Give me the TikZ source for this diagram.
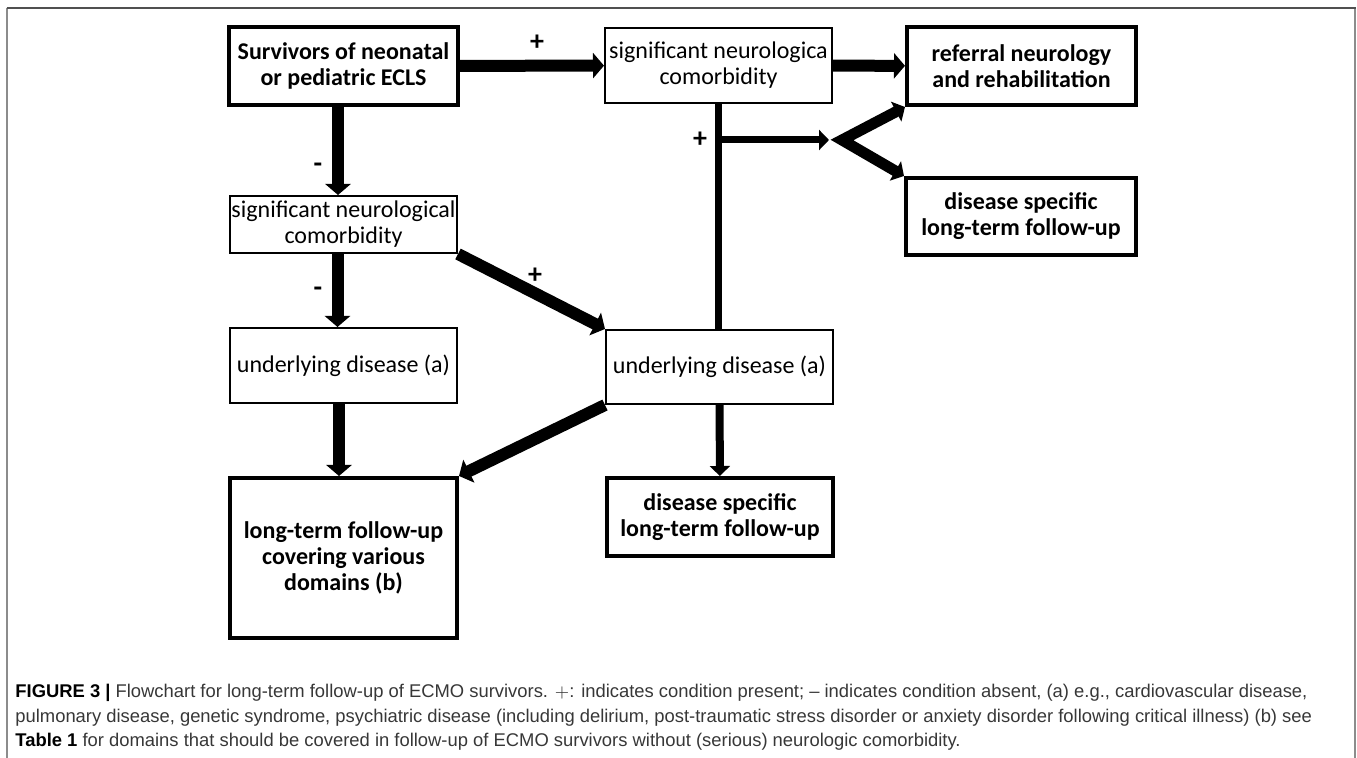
\documentclass[tikz,border=0pt]{standalone}
\usepackage{fontspec}
\setmainfont{Carlito}
\newfontfamily\capfont{Liberation Sans}
\usetikzlibrary{arrows.meta,calc}
\definecolor{frameGray}{RGB}{80,80,80}
\definecolor{sideGray}{RGB}{140,140,140}
\definecolor{capGray}{RGB}{55,55,55}
\newcommand{\boxfont}{\fontsize{12}{13}\selectfont}
\tikzset{
  plainbox/.style={draw, line width=1pt, inner sep=0pt, align=center, font=\boxfont},
  boldbox/.style={draw, line width=2pt, inner sep=0pt, align=center, font=\boxfont\bfseries},
  bigarrow/.style={-{Triangle[length=5.5pt,width=12.5pt]}, line width=6pt},
  midarrow/.style={-{Triangle[length=5pt,width=10pt]}, line width=4pt},
  forkarrow/.style={{Triangle[length=5pt,width=11pt]}-{Triangle[length=5pt,width=11pt]}, line width=5.5pt, line join=miter},
  stem/.style={line width=3.5pt},
  sign/.style={font=\fontsize{14}{14}\selectfont\bfseries, inner sep=0pt},
  caption/.style={align=left, inner sep=0pt, text=capGray, font=\capfont\fontsize{9.2}{12.25}\selectfont}
}

\begin{document}
\begin{tikzpicture}[x=0.5pt, y=-0.5pt]
  \useasboundingbox (0,0) rectangle (1357,758);
  % frame of the figure
  \draw[sideGray, line width=0.75pt] (7,8) -- (7,758);
  \draw[sideGray, line width=0.75pt] (1355,8) -- (1355,758);
  \draw[frameGray, line width=1pt] (6.5,8) -- (1355.5,8);

  % boxes
  \node[boldbox, minimum width=114.5pt, minimum height=39pt] (surv) at (343.5,66) {Survivors of neonatal\\or pediatric ECLS};
  \node[plainbox, minimum width=113.5pt, minimum height=37.5pt] (neuroTop) at (718.5,65.5) {significant neurologica\\comorbidity};
  \node[boldbox, minimum width=114.5pt, minimum height=39pt] (referral) at (1021.5,66) {referral neurology\\and rehabilitation};
  \node[plainbox, minimum width=113.5pt, minimum height=28.5pt] (neuroLeft) at (343.5,224.5) {\makebox[0pt]{significant neurological}\\comorbidity};
  \node[boldbox, minimum width=115pt, minimum height=38.5pt] (specTop) at (1021,216.5) {disease specific\\long-term follow-up};
  \node[plainbox, minimum width=113.5pt, minimum height=37.5pt] (underLeft) at (343.5,365.5) {underlying disease (a)};
  \node[plainbox, minimum width=113.5pt, minimum height=37pt] (underRight) at (719.5,367) {underlying disease (a)};
  \node[boldbox, minimum width=113pt, minimum height=39pt] (specBottom) at (720,517) {disease specific\\long-term follow-up};
  \node[boldbox, minimum width=113.5pt, minimum height=80pt] (various) at (343.5,558) {long-term follow-up\\covering various\\domains (b)};

  % signs
  \node[sign] (plusTop) at (537,43) {+};
  \node[sign] (minusTop) at (318,168) {-};
  \node[sign] (minusLow) at (318,292) {-};
  \node[sign] (plusStem) at (700,140) {+};
  \node[sign] (plusDiag) at (535,276) {+};

  % connectors
  \draw[bigarrow] (surv) -- (neuroTop);
  \draw[bigarrow] (neuroTop) -- (referral);
  \draw[bigarrow] ([xshift=-2.75pt]surv.south) -- ([xshift=-2.75pt]neuroLeft.north);
  \draw[bigarrow] ([xshift=-3pt]neuroLeft.south) -- ([xshift=-3pt]underLeft.north);
  \draw[bigarrow] (neuroLeft.south east) -- (underRight.north west);
  \draw[bigarrow] ([xshift=-2.25pt]underLeft.south) -- ([xshift=-2.25pt]various.north);
  \draw[bigarrow] (underRight.south west) -- (various.north east);
  \draw[midarrow] (underRight) -- (specBottom);
  \draw[stem] (neuroTop.south) -- (neuroTop.south |- underRight.north);
  \coordinate (fork) at (842,140);
  \coordinate (branch) at (neuroTop.south |- fork);
  \draw[midarrow, line width=3.5pt, shorten >=6.5pt] (branch) -- (fork);
  \draw[forkarrow] (referral.south west) -- (fork) -- (specTop.north west);

  % caption
  \node[caption, anchor=north west] (cap) at (15,684) {\textbf{\color{black}FIGURE 3 |} Flowchart for long-term follow-up of ECMO survivors. $+$: indicates condition present; – indicates condition absent, (a) e.g., cardiovascular disease,\\
  pulmonary disease, genetic syndrome, psychiatric disease (including delirium, post-traumatic stress disorder or anxiety disorder following critical illness) (b) see\\
  \textbf{\color{black}Table 1} for domains that should be covered in follow-up of ECMO survivors without (serious) neurologic comorbidity.};
\end{tikzpicture}
\end{document}
